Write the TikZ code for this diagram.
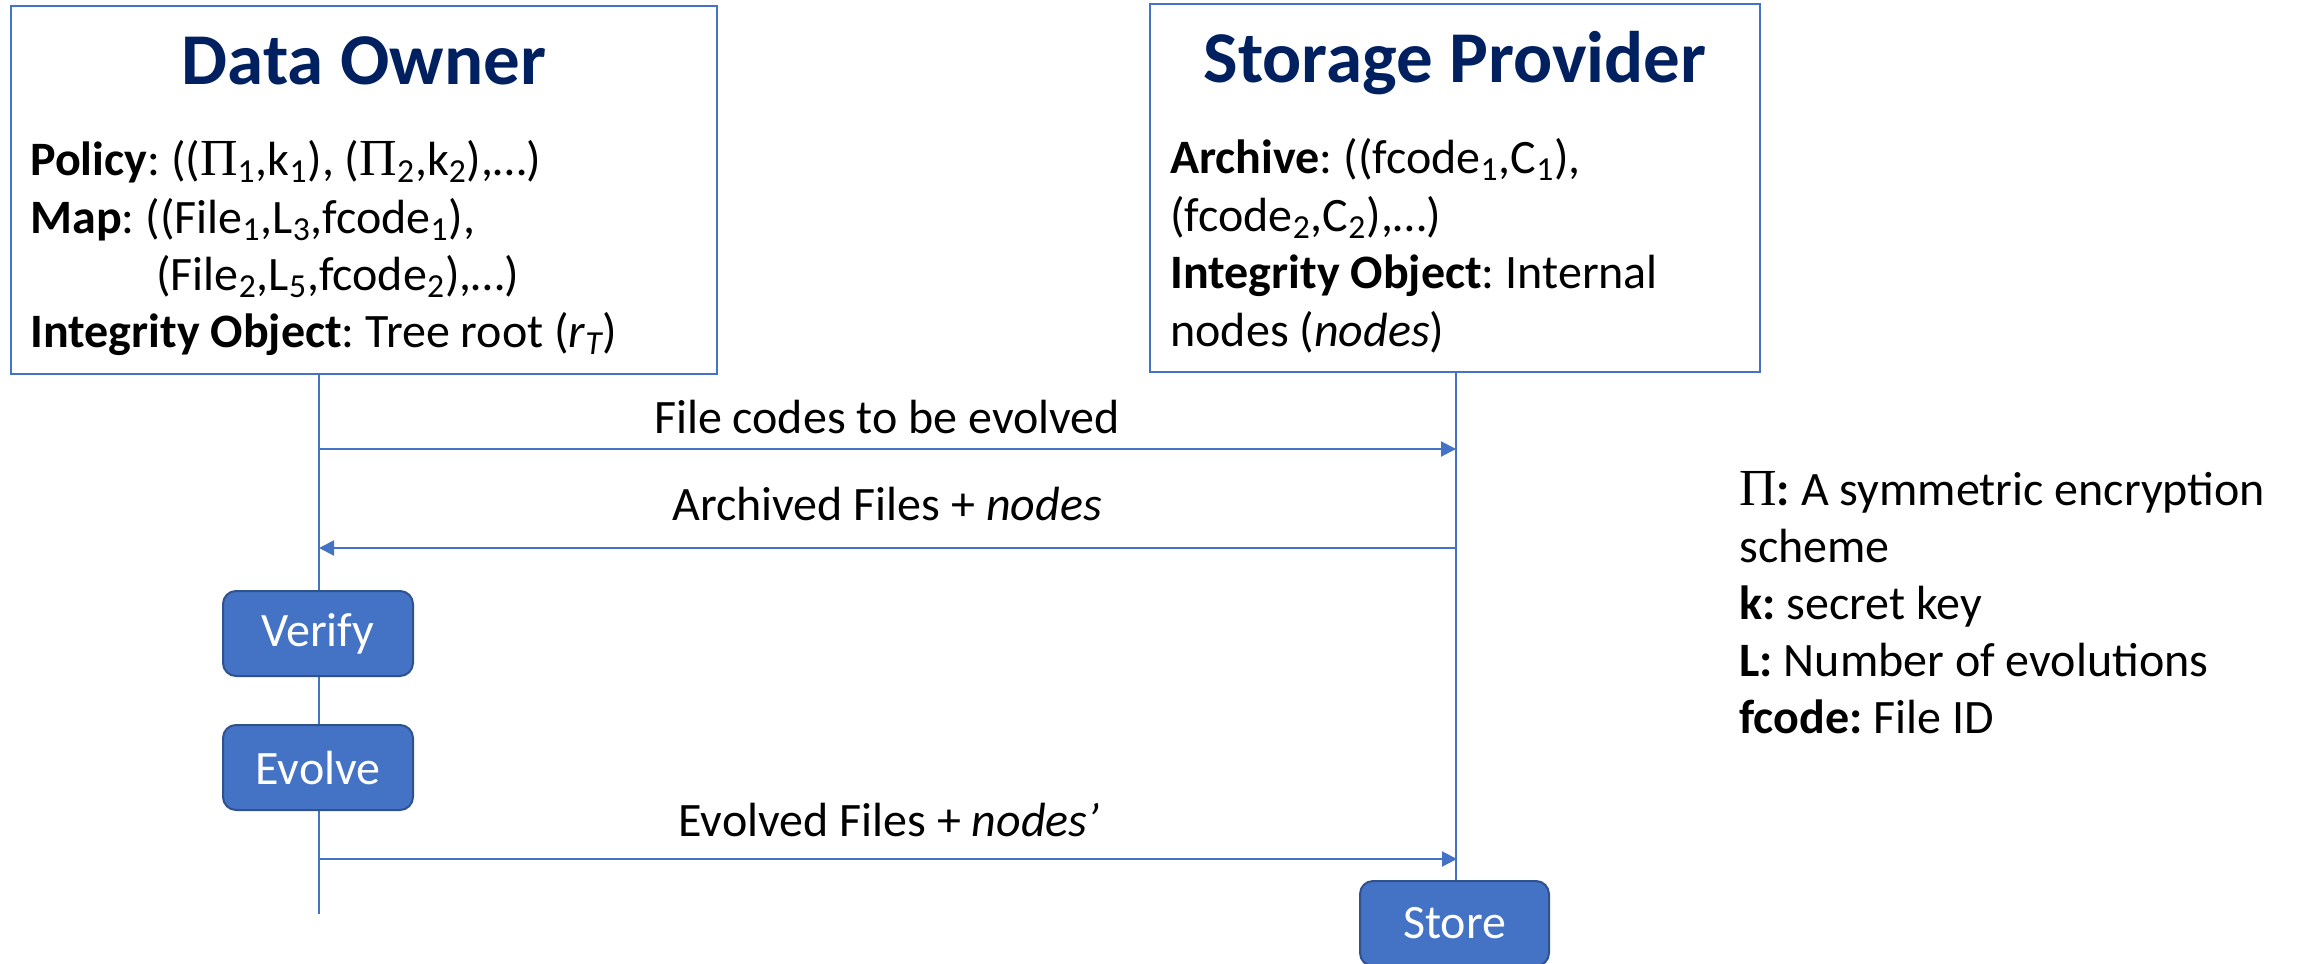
\documentclass[tikz,border=0pt]{standalone}
\usepackage{fontspec}
\setmainfont{Carlito}
\newfontfamily\pifont{Liberation Serif}
\usetikzlibrary{arrows.meta}
\definecolor{boxblue}{HTML}{4472C4}
\definecolor{boxedge}{HTML}{2F528F}
\definecolor{navy}{HTML}{002060}
\newcommand{\PI}{{\pifont\fontsize{26}{28.5}\selectfont Π}}
\frenchspacing
\tikzset{
  actor/.style={draw=boxblue, line width=1pt, inner sep=0pt},
  ttl/.style={font=\fontsize{36.5}{44}\selectfont\bfseries, text=navy, anchor=base, inner sep=0pt},
  txt/.style={font=\fontsize{24}{28.5}\selectfont, anchor=base west, inner sep=0pt},
  lbl/.style={font=\fontsize{24}{28.5}\selectfont, anchor=base, inner sep=0pt},
  life/.style={draw=boxblue, line width=0.75pt},
  msg/.style={draw=boxblue, line width=1pt, -{Triangle[length=7.5pt,width=7.5pt]}},
  action/.style={draw=boxedge, fill=boxblue, line width=1pt, rounded corners=6.5pt,
    minimum width=95pt, minimum height=42.5pt, inner sep=0pt, text=white,
    font=\fontsize{24}{28.5}\selectfont}
}
\begin{document}
\begin{tikzpicture}[x=0.5pt,y=-0.5pt]
\useasboundingbox (0,0) rectangle (2305,963);
% actor boxes
\node[actor, minimum width=353pt, minimum height=184pt] (do) at (364,190) {};
\node[actor, minimum width=305pt, minimum height=184pt] (sp) at (1455,188) {};
\node[ttl] (dotitle) at (364,85) {Data Owner};
\node[ttl] (sptitle) at (1455,83) {Storage Provider};
% data owner contents
\node[txt] (pol) at (30,175) {\textbf{Policy}: ((\PI\textsubscript{1},k\textsubscript{1}), (\PI\textsubscript{2},k\textsubscript{2}),…)};
\node[txt] (map1) at (30,233) {\textbf{Map}: ((File\textsubscript{1},L\textsubscript{3},fcode\textsubscript{1}),};
\node[txt] (map2) at (156,290) {(File\textsubscript{2},L\textsubscript{5},fcode\textsubscript{2}),…)};
\node[txt] (ioa) at (30,347) {\textbf{Integrity Object}: Tree root (\textit{r\textsubscript{T}})};
% storage provider contents
\node[txt] (arc1) at (1170,173) {\textbf{Archive}: ((fcode\textsubscript{1},C\textsubscript{1}),};
\node[txt] (arc2) at (1170,231) {(fcode\textsubscript{2},C\textsubscript{2}),…)};
\node[txt] (iob1) at (1170,288) {\textbf{Integrity Object}: Internal};
\node[txt] (iob2) at (1170,346) {nodes (\textit{nodes})};
% lifelines
\coordinate (dotop) at (319,374);
\coordinate (doend) at (319,914);
\coordinate (sptop) at (1456,372);
\coordinate (m1a) at (319,449);
\coordinate (m1b) at (1456,449);
\coordinate (m2a) at (1456,548);
\coordinate (m2b) at (319,548);
\coordinate (m3a) at (319,859);
\coordinate (m3b) at (1457,859);
\draw[life] (dotop) -- (doend);
% actions
\node[action] (verify) at (318,633.5) {Verify};
\node[action] (evolve) at (318,767.5) {Evolve};
\node[action, minimum width=94.5pt] (store) at (1454.5,923.5) {Store};
\draw[life] (sptop) -- (store.north -| sptop);
% messages
\draw[msg] (m1a) -- (m1b);
\node[lbl] (l1) at (887,433) {File codes to be evolved};
\draw[msg] (m2a) -- (m2b);
\node[lbl] (l2) at (887,520) {Archived Files + \textit{nodes}};
\draw[msg] (m3a) -- (m3b);
\node[lbl] (l3) at (889,836) {Evolved Files + \textit{nodes’}};
% legend
\node[txt] (g1) at (1739,505) {\PI\textbf{:} A symmetric encryption};
\node[txt] (g2) at (1739,562) {scheme};
\node[txt] (g3) at (1739,619) {\textbf{k:} secret key};
\node[txt] (g4) at (1739,676) {\textbf{L:} Number of evolutions};
\node[txt] (g5) at (1739,733) {\textbf{fcode:} File ID};
\end{tikzpicture}
\end{document}
